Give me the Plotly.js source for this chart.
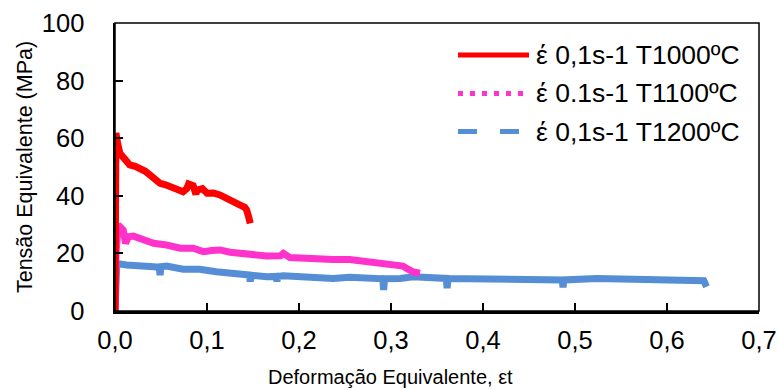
<!DOCTYPE html>
<html>
<head>
<meta charset="utf-8">
<script src="https://cdn.plot.ly/plotly-3.0.1.min.js"></script>
<style>html,body{margin:0;padding:0;background:#fff;}#chart{width:778px;height:389px;}</style>
</head>
<body>
<div id="chart"></div>
<script>
// Series names
const seriesNames = ["έ 0,1s-1 T1000ºC", "έ 0.1s-1 T1100ºC", "έ 0,1s-1 T1200ºC"];
const xTitle = "Deformação Equivalente, εt";
const yTitle = "Tensão Equivalente (MPa)";

// T1000 (red)
const x1000 = [0, 0.0005, 0.001, 0.003, 0.0054, 0.01, 0.016, 0.022, 0.027, 0.033, 0.038, 0.044, 0.049, 0.055, 0.06, 0.068, 0.074, 0.078, 0.08, 0.085, 0.088, 0.089, 0.095, 0.1, 0.107, 0.114, 0.12, 0.125, 0.131, 0.136, 0.141, 0.143, 0.145, 0.147];
const y1000 = [0, 40, 61.8, 58, 54.7, 53, 50.7, 50.2, 49.5, 48.5, 47.2, 45.6, 44.3, 43.8, 43.2, 42.5, 41.4, 42.5, 44.1, 43.5, 40.5, 42, 42.5, 40.9, 41, 40.3, 39.5, 38.5, 37.5, 36.8, 36, 35.1, 33, 30.4];

// T1100 (pink)
const x1100 = [0, 0.001, 0.0036, 0.009, 0.0115, 0.0145, 0.02, 0.027, 0.035, 0.042, 0.056, 0.071, 0.085, 0.096, 0.105, 0.114, 0.125, 0.136, 0.15, 0.165, 0.18, 0.183, 0.19, 0.201, 0.219, 0.237, 0.255, 0.274, 0.292, 0.3, 0.313, 0.318, 0.324, 0.3315];
const y1100 = [0, 20, 29.9, 28.1, 23.5, 25.8, 26, 25.2, 24.5, 23.5, 22.9, 21.8, 21.8, 20.6, 21, 21.2, 20.4, 20.0, 19.4, 19.1, 19.2, 20.0, 18.6, 18.3, 18.3, 17.9, 17.9, 17.1, 16.6, 15.8, 15.6, 14.6, 13.6, 13.1];

// T1200 (blue)
const x1200 = [0, 0.001, 0.002, 0.0127, 0.027, 0.042, 0.048, 0.049, 0.05, 0.056, 0.074, 0.092, 0.11, 0.129, 0.146, 0.147, 0.148, 0.165, 0.175, 0.176, 0.177, 0.183, 0.201, 0.219, 0.237, 0.255, 0.274, 0.291, 0.292, 0.293, 0.31, 0.324, 0.36, 0.361, 0.362, 0.397, 0.433, 0.458, 0.486, 0.487, 0.488, 0.524, 0.56, 0.596, 0.632, 0.64, 0.643];
const y1200 = [0, 10, 16.5, 16.0, 16.0, 15.4, 15.2, 12.5, 15.4, 15.6, 14.5, 14.5, 13.6, 13.1, 12.5, 10.2, 12.4, 11.9, 12.0, 10.3, 12.0, 12.2, 11.9, 11.7, 11.3, 11.7, 11.3, 11.2, 7.3, 11.2, 11.3, 11.9, 11.3, 7.9, 11.3, 11.0, 10.8, 10.5, 10.8, 8.2, 10.8, 11.3, 11.0, 11.3, 10.8, 10.5, 8.4];

const colors = ["#FF0000", "#FF33CC", "#558ED5"];
const FONT = "Liberation Sans, Arial, sans-serif";

const traces = [
  {x: x1200, y: y1200, mode: "lines", line: {color: colors[2], width: 7}, showlegend: false, name: seriesNames[2]},
  {x: x1100, y: y1100, mode: "lines", line: {color: colors[1], width: 7}, showlegend: false, name: seriesNames[1]},
  {x: x1000, y: y1000, mode: "lines", line: {color: colors[0], width: 7}, showlegend: false, name: seriesNames[0]}
];

// manual legend (paper coordinates)
const L = 115, R = 759, T = 23, B = 311;
const px = v => (v - L) / (R - L);
const py = v => (B - v) / (B - T);
const rowY = [55, 93.5, 131.5];
const dashes = ["solid", "5px,7px", "19px,23px"];
const shapes = [
  {type: "rect", xref: "paper", yref: "paper", x0: 0, x1: 1, y0: 0, y1: 1, line: {color: "#000", width: 1.5}, layer: "above"}
];
const annotations = [];
for (let i = 0; i < 3; i++) {
  shapes.push({type: "line", xref: "paper", yref: "paper", x0: px(458), x1: px(i === 0 ? 529 : 523), y0: py(rowY[i]), y1: py(rowY[i]),
    line: {color: colors[i], width: 5, dash: dashes[i]}});
  annotations.push({xref: "paper", yref: "paper", x: px(534), y: py(rowY[i]), xanchor: "left", yanchor: "middle",
    text: seriesNames[i], showarrow: false, font: {family: FONT, size: 26.5, color: "#000"}});
}
annotations.push({xref: "paper", yref: "paper", x: px(390), y: py(389), xanchor: "center", yanchor: "bottom",
  borderpad: 0, text: xTitle, showarrow: false, font: {family: FONT, size: 20, color: "#000"}});

const layout = {
  width: 778, height: 389,
  margin: {l: L, r: 778 - R, t: T, b: 389 - B, pad: 0},
  paper_bgcolor: "#fff", plot_bgcolor: "#fff",
  separators: ",.",
  font: {family: FONT, color: "#000"},
  showlegend: false,
  xaxis: {
    range: [0, 0.7], dtick: 0.1, tick0: 0, tickformat: ".1f",
    showgrid: false, zeroline: false, showline: true, linecolor: "#000", linewidth: 2.5,
    ticks: "inside", ticklen: 8, tickwidth: 2, tickcolor: "#000",
    ticklabelstandoff: 5,
    tickfont: {family: FONT, size: 25.5, color: "#000"},
    automargin: false
  },
  yaxis: {
    range: [0, 100], dtick: 20, tick0: 0,
    showgrid: false, zeroline: false, showline: true, linecolor: "#000", linewidth: 2.5,
    ticks: "inside", ticklen: 8, tickwidth: 2, tickcolor: "#000",
    ticklabelstandoff: 23,
    tickfont: {family: FONT, size: 25.5, color: "#000"},
    title: {text: yTitle, font: {family: FONT, size: 21.5, color: "#000"}, standoff: 4},
    automargin: false
  },
  shapes: shapes,
  annotations: annotations
};

Plotly.newPlot("chart", traces, layout, {displayModeBar: false, staticPlot: true});
</script>
</body>
</html>
